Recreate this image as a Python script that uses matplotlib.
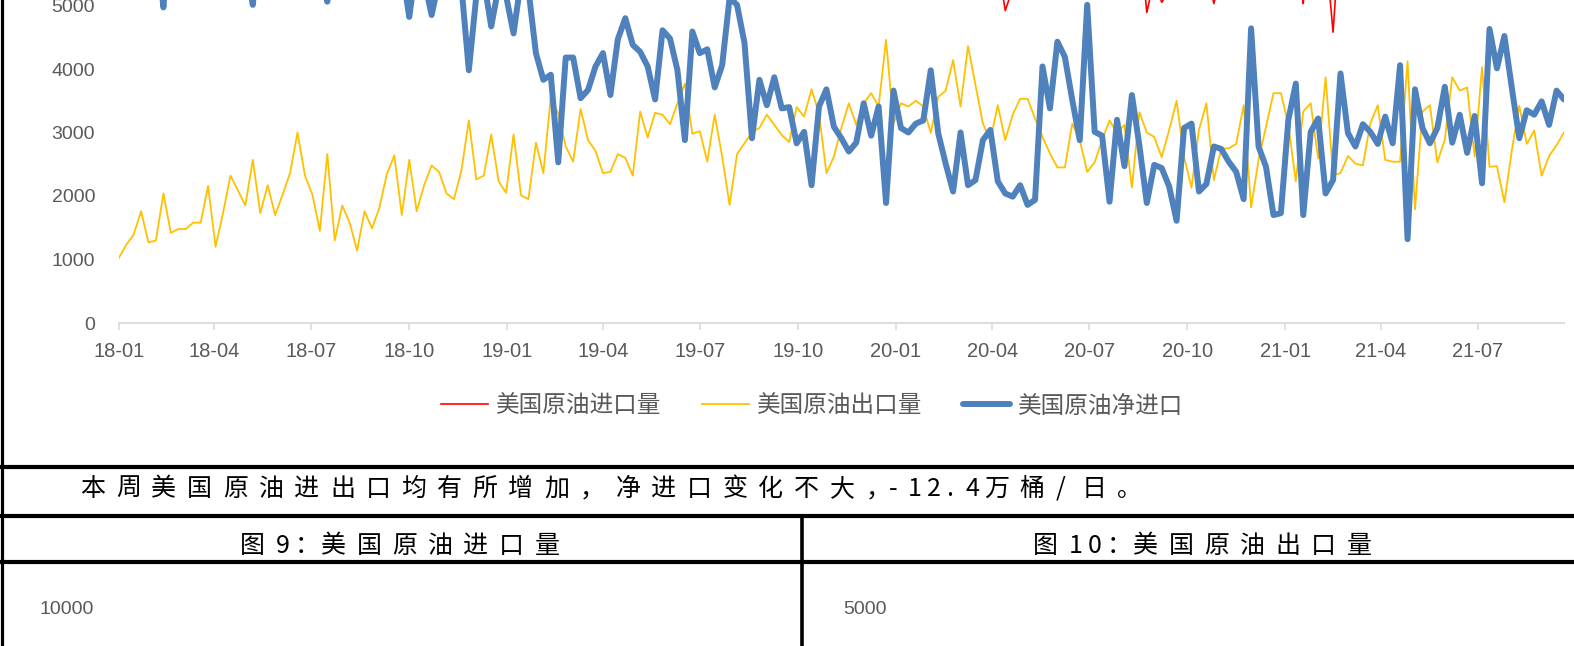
import numpy as np
import pandas as pd
import matplotlib
matplotlib.use('Agg')
import matplotlib.pyplot as plt
import matplotlib.dates as mdates
from matplotlib.lines import Line2D
from matplotlib.font_manager import FontProperties

# weekly data, kb/d, from 2018-01-05
weeks = pd.date_range('2018-01-05', periods=195, freq='7D')

imports = [
    7920, 7830, 7690, 7560, 7770, 7500, 7010, 7820, 7580, 7380,
    7880, 7580, 7660, 7600, 7530, 7920, 8190, 7550, 7580, 7930,
    7770, 7600, 8020, 7760, 8700, 7820, 7920, 7650, 7720, 7600,
    7750, 7680, 7340, 7560, 7090, 7720, 7850, 7940, 7300, 7390,
    7460, 7570, 7330, 7780, 7640, 7450, 7700, 7170, 7410, 7720,
    7640, 7530, 7200, 7530, 7410, 7200, 7090, 6190, 7470, 5830,
    6960, 6720, 6910, 6550, 6750, 6610, 5970, 7130, 7400, 6700,
    7600, 6960, 6830, 7890, 7610, 7440, 6650, 7570, 7270, 6850,
    6990, 6680, 6980, 7670, 7240, 5920, 6900, 6710, 6990, 6340,
    6250, 6230, 6260, 5850, 6710, 6040, 5710, 5980, 6160, 5960,
    6920, 6570, 6820, 6350, 6800, 6530, 6410, 6640, 6600, 6970,
    6550, 6170, 6210, 6410, 6530, 6000, 6020, 5920, 5660, 4920,
    5270, 5700, 5390, 5200, 6970, 6050, 6880, 6640, 6650, 5760,
    7390, 5540, 5830, 5180, 6190, 5590, 5720, 6120, 4890, 5420,
    5050, 5230, 5180, 5690, 5270, 5170, 5650, 5030, 5490, 5290,
    5200, 5380, 6460, 5350, 5550, 5320, 5350, 6320, 6000, 5030,
    6470, 5810, 5910, 4580, 6290, 5620, 5290, 5610, 6150, 6250,
    5820, 5370, 6600, 5440, 5470, 6400, 6260, 5600, 6610, 6710,
    6940, 6390, 5880, 6230, 7090, 6480, 6420, 6420, 6330, 6170,
    6310, 5810, 5750, 6460, 6520,
]

exports = [
    1020, 1230, 1390, 1760, 1270, 1300, 2040, 1420, 1480, 1480,
    1580, 1580, 2160, 1200, 1730, 2320, 2090, 1850, 2570, 1730,
    2170, 1700, 2020, 2360, 3000, 2320, 2020, 1450, 2660, 1300,
    1850, 1580, 1140, 1760, 1490, 1820, 2350, 2640, 1700, 2570,
    1760, 2170, 2480, 2380, 2040, 1950, 2400, 3190, 2260, 2320,
    2970, 2230, 2050, 2970, 2010, 1950, 2840, 2360, 3560, 3300,
    2780, 2540, 3370, 2880, 2710, 2360, 2380, 2660, 2600, 2320,
    3330, 2920, 3310, 3280, 3130, 3460, 3770, 2980, 3020, 2540,
    3280, 2620, 1860, 2660, 2830, 3010, 3070, 3280, 3120, 2960,
    2850, 3400, 3250, 3680, 3300, 2360, 2620, 3070, 3460, 3120,
    3460, 3620, 3410, 4460, 3140, 3460, 3410, 3500, 3410, 2990,
    3560, 3660, 4140, 3410, 4360, 3750, 3140, 2880, 3430, 2880,
    3280, 3530, 3530, 3220, 2930, 2670, 2450, 2450, 3140, 2880,
    2380, 2530, 2880, 3190, 2990, 3120, 2130, 3320, 3000, 2930,
    2610, 3040, 3500, 2620, 2130, 3040, 3460, 2250, 2750, 2750,
    2820, 3430, 1820, 2570, 3090, 3620, 3620, 3120, 2230, 3330,
    3460, 2590, 3870, 2330, 2360, 2630, 2510, 2480, 3140, 3430,
    2570, 2540, 2540, 4120, 1790, 3330, 3430, 2530, 2890, 3870,
    3660, 3710, 2620, 4030, 2460, 2470, 1900, 2720, 3420, 2820,
    3030, 2320, 2630, 2800, 3000,
]

net_imports = [
    6900, 6600, 6300, 5800, 6500, 6200, 4970, 6400, 6100, 5900,
    6300, 6000, 5500, 6400, 5800, 5600, 6100, 5700, 5010, 6200,
    5600, 5900, 6000, 5400, 5700, 5500, 5900, 6200, 5060, 6300,
    5900, 6100, 6200, 5800, 5600, 5900, 5500, 5300, 5600, 4820,
    5700, 5400, 4850, 5400, 5600, 5500, 5300, 3980, 5150, 5400,
    4670, 5300, 5150, 4560, 5400, 5250, 4250, 3830, 3910, 2530,
    4180, 4180, 3540, 3670, 4040, 4250, 3590, 4470, 4800, 4380,
    4270, 4040, 3520, 4610, 4480, 3980, 2880, 4590, 4250, 4310,
    3710, 4060, 5120, 5010, 4410, 2910, 3830, 3430, 3870, 3380,
    3400, 2830, 3010, 2170, 3410, 3680, 3090, 2910, 2700, 2840,
    3460, 2950, 3410, 1890, 3660, 3070, 3000, 3140, 3190, 3980,
    2990, 2510, 2070, 3000, 2170, 2250, 2880, 3040, 2230, 2040,
    1990, 2170, 1860, 1940, 4040, 3380, 4430, 4190, 3510, 2880,
    5010, 3010, 2950, 1910, 3200, 2470, 3590, 2800, 1890, 2490,
    2440, 2150, 1610, 3070, 3140, 2070, 2190, 2780, 2740, 2540,
    2380, 1950, 4640, 2780, 2460, 1700, 1730, 3200, 3770, 1700,
    3010, 3220, 2040, 2250, 3930, 2990, 2780, 3130, 3010, 2820,
    3250, 2830, 4060, 1320, 3680, 3070, 2830, 3070, 3720, 2840,
    3280, 2680, 3260, 2200, 4630, 4010, 4520, 3700, 2910, 3350,
    3280, 3490, 3120, 3660, 3520,
]

series_names = ['美国原油进口量', '美国原油出口量', '美国原油净进口']
body_text = '本周美国原油进出口均有所增加，净进口变化不大，'
body_tail = '-12.4万桶/日。'
title_left = '图9：美国原油进口量'
title_right = '图10：美国原油出口量'

W, H = 1574, 646
CJK = ['Noto Sans CJK SC', 'DejaVu Sans']
GRAY = '#595959'

plt.rcParams['font.family'] = ['Liberation Sans', 'DejaVu Sans']

fig = plt.figure(figsize=(W / 100, H / 100), dpi=100)


def fx(px):
    return px / W


def fy(py):
    return 1 - py / H


# chart: bottom of axes at y=323 px, 63.5 px per 1000
ax = fig.add_axes([fx(118.7), fy(323), fx(1564) - fx(118.7), 10 * 63.5 / H])
ax.plot(weeks, imports, color='#FF0000', lw=1.2, label=series_names[0])
ax.plot(weeks, exports, color='#FFC000', lw=1.3, label=series_names[1])
ax.plot(weeks, net_imports, color='#4F81BD', lw=4.3,
        solid_joinstyle='round', solid_capstyle='round', label=series_names[2])

ax.set_xlim(weeks[0], weeks[-1])
ax.set_ylim(0, 10000)
ax.set_yticks(np.arange(0, 5001, 1000))
ticks = pd.date_range('2018-01-05', '2021-09-24', freq=pd.DateOffset(months=3))
ax.set_xticks(ticks)
ax.xaxis.set_major_formatter(mdates.DateFormatter('%y-%m'))

for s in ['left', 'right', 'top']:
    ax.spines[s].set_visible(False)
ax.spines['bottom'].set_color('#d9d9d9')
ax.spines['bottom'].set_linewidth(1.3)
ax.tick_params(axis='x', direction='out', length=5, width=1.1, color='#d9d9d9',
               labelsize=14.5, labelcolor=GRAY, pad=9)
ax.tick_params(axis='y', length=0, labelsize=14, labelcolor=GRAY, pad=17)
ax.patch.set_alpha(0)

fig.legend(*ax.get_legend_handles_labels(), loc='center',
           bbox_to_anchor=(fx(812), fy(406)), ncol=3, frameon=False,
           prop=FontProperties(family='Noto Sans CJK SC', size=17),
           labelcolor=GRAY, handlelength=2.0, handletextpad=0.35,
           columnspacing=1.7)


def spaced(x, yc, s, size=18):
    for ch in s:
        fig.text(fx(x), fy(yc), ch, fontsize=size, family=CJK,
                 ha='left', va='center', color='black')
        if ch == '：':
            x += 26
        elif ch == '/':
            x += 26
        elif ch.isascii():
            x += 19
        else:
            x += 35.7
    return x


spaced(80, 489, body_text)
spaced(889, 489, body_tail)
spaced(240, 546, title_left)
spaced(1033, 546, title_right)

fig.text(fx(94), fy(610), '10000', ha='right', va='center', color=GRAY, fontsize=14)
fig.text(fx(887), fy(610), '5000', ha='right', va='center', color=GRAY, fontsize=14)

# table borders
for yb in (467, 515.5, 562):
    fig.add_artist(Line2D([0, 1], [fy(yb)] * 2, color='black', lw=3,
                          transform=fig.transFigure))
fig.add_artist(Line2D([fx(1.5)] * 2, [0, 1], color='black', lw=2.3,
                      transform=fig.transFigure))
fig.add_artist(Line2D([fx(802)] * 2, [fy(515.5), 0], color='black', lw=2.6,
                      transform=fig.transFigure))

fig.savefig('out.png', dpi=100)
